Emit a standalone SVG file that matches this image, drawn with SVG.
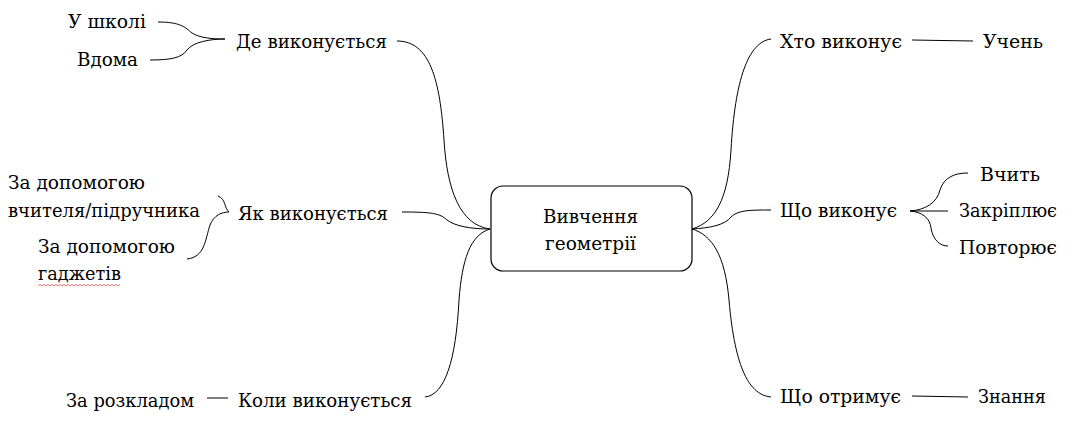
<svg xmlns="http://www.w3.org/2000/svg" width="1087" height="442" viewBox="0 0 1087 442">
<style>
.c{fill:none;stroke:#000;stroke-width:1}
.box{fill:#fff;stroke:#000;stroke-width:1.2}
text{font-family:"DejaVu Serif",serif;font-size:19px;fill:#000}
</style>
<rect width="1087" height="442" fill="#fff"/>
<g id="connectors">
<path class="c" d="M397,41 C430,41 440,80 444,140 C447,190 460,225 490,229"/>
<path class="c" d="M158,22 C180,22 185,27 192,33 C200,38 212,39 225,39"/>
<path class="c" d="M150,60 C170,60 182,58 187,50 C193,42 210,39 225,39"/>
<path class="c" d="M402,212 C430,212 440,213 447,220 C455,226 470,229 490,229"/>
<path class="c" d="M218,196 C226,199 224,208 229,212"/>
<path class="c" d="M187,259 C205,257 205,240 210,225 C214,215 222,212 229,212"/>
<path class="c" d="M490,229 C470,235 462,260 459,300 C456,360 445,395 425,397"/>
<path class="c" d="M207,398 L228,398"/>
<path class="c" d="M692,229 C715,222 728,200 731,150 C735,80 748,42 771,39"/>
<path class="c" d="M912,40 L973,41"/>
<path class="c" d="M692,229 C710,228 725,225 731,217 C738,210 750,210 771,210"/>
<path class="c" d="M910,211 C925,210 937,203 940,190 C944,177 955,173 968,173"/>
<path class="c" d="M910,211 L948,211"/>
<path class="c" d="M910,211 C922,212 930,218 931,228 C933,240 940,246 948,246"/>
<path class="c" d="M692,229 C712,235 725,255 729,300 C735,370 750,395 771,397"/>
<path class="c" d="M912,396 L968,397"/>
</g>
<g id="center">
<rect class="box" x="491" y="186" width="201" height="85" rx="12"/>
<text x="543" y="223" textLength="95" lengthAdjust="spacingAndGlyphs">Вивчення</text>
<text x="545" y="250" textLength="91" lengthAdjust="spacingAndGlyphs">геометрії</text>
</g>
<g id="de"><text x="236" y="48" textLength="151" lengthAdjust="spacingAndGlyphs">Де виконується</text></g>
<g id="shkoli"><text x="68" y="28" textLength="78" lengthAdjust="spacingAndGlyphs">У школі</text></g>
<g id="vdoma"><text x="77" y="66" textLength="61" lengthAdjust="spacingAndGlyphs">Вдома</text></g>
<g id="yak"><text x="238" y="220" textLength="150" lengthAdjust="spacingAndGlyphs">Як виконується</text></g>
<g id="vchytelia"><text x="8" y="189" textLength="137" lengthAdjust="spacingAndGlyphs">За допомогою</text><text x="8" y="217" textLength="192" lengthAdjust="spacingAndGlyphs">вчителя/підручника</text></g>
<g id="gadzhetiv"><text x="38" y="253" textLength="137" lengthAdjust="spacingAndGlyphs">За допомогою</text><text x="38" y="280" textLength="83" lengthAdjust="spacingAndGlyphs">гаджетів</text>
<path d="M38,286 l2,-1.6 l2,1.6 l2,-1.6 l2,1.6 l2,-1.6 l2,1.6 l2,-1.6 l2,1.6 l2,-1.6 l2,1.6 l2,-1.6 l2,1.6 l2,-1.6 l2,1.6 l2,-1.6 l2,1.6 l2,-1.6 l2,1.6 l2,-1.6 l2,1.6 l2,-1.6 l2,1.6 l2,-1.6 l2,1.6 l2,-1.6 l2,1.6 l2,-1.6 l2,1.6 l2,-1.6 l2,1.6 l2,-1.6 l2,1.6 l2,-1.6 l2,1.6 l2,-1.6 l2,1.6 l2,-1.6 l2,1.6 l2,-1.6 l2,1.6 l2,-1.6" fill="none" stroke="#e03030" stroke-width="0.7"/></g>
<g id="koly"><text x="238" y="407" textLength="174" lengthAdjust="spacingAndGlyphs">Коли виконується</text></g>
<g id="rozklad"><text x="66" y="407" textLength="128" lengthAdjust="spacingAndGlyphs">За розкладом</text></g>
<g id="khto"><text x="780" y="48" textLength="122" lengthAdjust="spacingAndGlyphs">Хто виконує</text></g>
<g id="uchen"><text x="983" y="48" textLength="60" lengthAdjust="spacingAndGlyphs">Учень</text></g>
<g id="shcho"><text x="780" y="217" textLength="117" lengthAdjust="spacingAndGlyphs">Що виконує</text></g>
<g id="vchyt"><text x="980" y="181" textLength="60" lengthAdjust="spacingAndGlyphs">Вчить</text></g>
<g id="zakripliuie"><text x="959" y="217" textLength="98" lengthAdjust="spacingAndGlyphs">Закріплює</text></g>
<g id="povtoriuie"><text x="959" y="254" textLength="98" lengthAdjust="spacingAndGlyphs">Повторює</text></g>
<g id="otrymuie"><text x="780" y="403" textLength="121" lengthAdjust="spacingAndGlyphs">Що отримує</text></g>
<g id="znannia"><text x="978" y="403" textLength="68" lengthAdjust="spacingAndGlyphs">Знання</text></g>
</svg>
